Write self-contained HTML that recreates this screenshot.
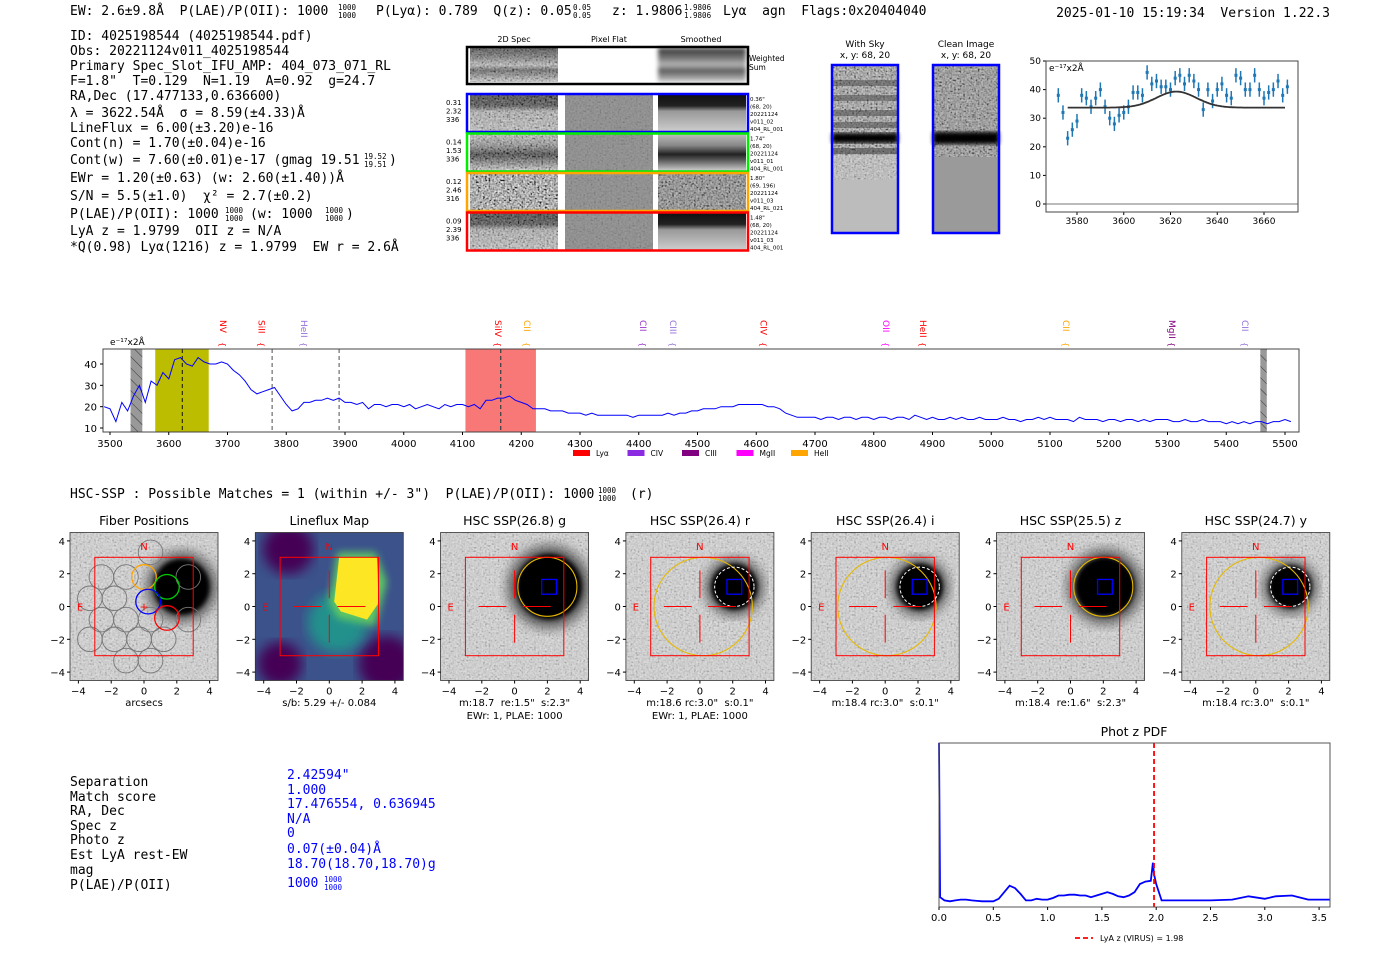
<!DOCTYPE html>
<html><head><meta charset="utf-8"><style>
html,body{margin:0;padding:0;background:#fff;width:1400px;height:953px;overflow:hidden}
svg{display:block}
text{white-space:pre}
.m{font-family:"DejaVu Sans Mono","Liberation Mono",monospace;font-size:13px;fill:#000}
.s{font-family:"DejaVu Sans","Liberation Sans",sans-serif;fill:#000}
.fr{font-family:"DejaVu Sans Mono",monospace;font-size:7.5px}
</style></head><body>
<svg id="root" width="1400" height="953" viewBox="0 0 1400 953" xmlns="http://www.w3.org/2000/svg" xml:space="preserve">
<defs>
<filter id="noise" x="0" y="0" width="100%" height="100%"><feTurbulence type="fractalNoise" baseFrequency="0.55" numOctaves="1" seed="3"/><feColorMatrix type="matrix" values="0.33 0.33 0.33 0 0 0.33 0.33 0.33 0 0 0.33 0.33 0.33 0 0 0 0 0 0 1"/><feComponentTransfer><feFuncR type="linear" slope="3.5" intercept="-1.25"/><feFuncG type="linear" slope="3.5" intercept="-1.25"/><feFuncB type="linear" slope="3.5" intercept="-1.25"/></feComponentTransfer></filter>
<filter id="blur4"><feGaussianBlur stdDeviation="4"/></filter>
<filter id="blur2"><feGaussianBlur stdDeviation="2"/></filter>
<filter id="blur6"><feGaussianBlur stdDeviation="6"/></filter>
<pattern id="hatch" width="8" height="8" patternUnits="userSpaceOnUse" patternTransform="rotate(-45)"><rect width="8" height="8" fill="#999"/><line x1="0" y1="0" x2="0" y2="8" stroke="#333" stroke-width="1"/></pattern>
<linearGradient id="g2d" x1="0" y1="0" x2="0" y2="1"><stop offset="0" stop-color="#222"/><stop offset="0.3" stop-color="#333"/><stop offset="0.45" stop-color="#aaa"/><stop offset="1" stop-color="#bbb"/></linearGradient>
<linearGradient id="gsm" x1="0" y1="0" x2="0" y2="1"><stop offset="0" stop-color="#111"/><stop offset="0.3" stop-color="#222"/><stop offset="0.45" stop-color="#999"/><stop offset="1" stop-color="#ccc"/></linearGradient>
<linearGradient id="ggreen" x1="0" y1="0" x2="0" y2="1"><stop offset="0" stop-color="#bbb"/><stop offset="0.3" stop-color="#888"/><stop offset="0.55" stop-color="#222"/><stop offset="0.7" stop-color="#555"/><stop offset="1" stop-color="#ccc"/></linearGradient>
<linearGradient id="gws" x1="0" y1="0" x2="0" y2="1"><stop offset="0" stop-color="#333"/><stop offset="0.3" stop-color="#777"/><stop offset="0.5" stop-color="#bbb"/><stop offset="0.65" stop-color="#555"/><stop offset="1" stop-color="#ccc"/></linearGradient>
</defs>

<!-- header -->
<g>
<text class="m" x="70" y="15">EW: 2.6±9.8Å  P(LAE)/P(OII): 1000</text>
<text class="fr" x="338" y="10">1000</text><text class="fr" x="338" y="18">1000</text>
<text class="m" x="376" y="15">P(Lyα): 0.789  Q(z): 0.05</text>
<text class="fr" x="573" y="10">0.05</text><text class="fr" x="573" y="18">0.05</text>
<text class="m" x="612" y="15">z: 1.9806</text>
<text class="fr" x="684" y="10">1.9806</text><text class="fr" x="684" y="18">1.9806</text>
<text class="m" x="723" y="15">Lyα  agn  Flags:0x20404040</text>
<text class="m" x="1330" y="17" text-anchor="end">2025-01-10 15:19:34  Version 1.22.3</text>
</g>

<g>
<text class="m" x="70" y="40">ID: 4025198544 (4025198544.pdf)</text>
<text class="m" x="70" y="55">Obs: 20221124v011_4025198544</text>
<text class="m" x="70" y="70">Primary Spec_Slot_IFU_AMP: 404_073_071_RL</text>
<text class="m" x="70" y="85">F=1.8"  T=0.129  N=1.19  A=0.92  g=24.7</text>
<text class="m" x="70" y="100">RA,Dec (17.477133,0.636600)</text>
<text class="m" x="70" y="117">λ = 3622.54Å  σ = 8.59(±4.33)Å</text>
<text class="m" x="70" y="132">LineFlux = 6.00(±3.20)e-16</text>
<text class="m" x="70" y="147">Cont(n) = 1.70(±0.04)e-16</text>
<text class="m" x="70" y="164">Cont(w) = 7.60(±0.01)e-17 (gmag 19.51</text>
<text class="fr" x="364" y="159">19.52</text><text class="fr" x="364" y="167">19.51</text><text class="m" x="389" y="164">)</text>
<text class="m" x="70" y="182">EWr = 1.20(±0.63) (w: 2.60(±1.40))Å</text>
<text class="m" x="70" y="200">S/N = 5.5(±1.0)  χ² = 2.7(±0.2)</text>
<text class="m" x="70" y="218">P(LAE)/P(OII): 1000</text>
<text class="fr" x="225" y="213">1000</text><text class="fr" x="225" y="221">1000</text>
<text class="m" x="250" y="218">(w: 1000</text>
<text class="fr" x="325" y="213">1000</text><text class="fr" x="325" y="221">1000</text><text class="m" x="346" y="218">)</text>
<text class="m" x="70" y="235">LyA z = 1.9799  OII z = N/A</text>
<text class="m" x="70" y="251">*Q(0.98) Lyα(1216) z = 1.9799  EW r = 2.6Å</text>
</g>

<!-- 2D spectra cutouts -->
<g class="s">
<text x="514" y="42" font-size="8" text-anchor="middle">2D Spec</text>
<text x="609" y="42" font-size="8" text-anchor="middle">Pixel Flat</text>
<text x="701" y="42" font-size="8" text-anchor="middle">Smoothed</text>
<g>
<rect x="470" y="48" width="88" height="34" fill="url(#gws)"/><rect x="470" y="48" width="88" height="34" filter="url(#noise)" opacity="0.35"/>
<rect x="658" y="48" width="88" height="34" fill="url(#gws)" filter="url(#blur2)"/>
<rect x="467" y="47" width="281" height="37" fill="none" stroke="#000" stroke-width="2.5"/>
<text x="749" y="61" font-size="7.5">Weighted</text><text x="749" y="70" font-size="7.5">Sum</text>
</g>
</g>
<g id="cutrows"></g>

<!-- sky images -->
<g>
<text class="s" x="865" y="47" font-size="9" text-anchor="middle">With Sky</text>
<text class="s" x="865" y="58" font-size="9" text-anchor="middle">x, y: 68, 20</text>
<rect x="832" y="65" width="66" height="115" fill="#999"/>
<rect x="832" y="65" width="66" height="115" filter="url(#noise)" opacity="0.5"/>
<rect x="832" y="80" width="66" height="6" fill="#444" opacity="0.5"/><rect x="832" y="95" width="66" height="6" fill="#444" opacity="0.5"/><rect x="832" y="110" width="66" height="6" fill="#444" opacity="0.5"/><rect x="832" y="122" width="66" height="6" fill="#444" opacity="0.5"/>
<rect x="832" y="133" width="66" height="10" fill="#000" filter="url(#blur2)"/><rect x="832" y="148" width="66" height="6" fill="#333" opacity="0.5"/>
<rect x="832" y="155" width="66" height="25" fill="#ddd" opacity="0.4"/>
<rect x="832" y="180" width="66" height="53" fill="#bcbcbc"/>
<rect x="832" y="65" width="66" height="168" fill="none" stroke="#00f" stroke-width="2.5"/>
</g>
<g>
<text class="s" x="966" y="47" font-size="9" text-anchor="middle">Clean Image</text>
<text class="s" x="966" y="58" font-size="9" text-anchor="middle">x, y: 68, 20</text>
<rect x="933" y="65" width="66" height="92" fill="#8a8a8a"/>
<rect x="933" y="65" width="66" height="92" filter="url(#noise)" opacity="0.45"/>
<rect x="933" y="132" width="66" height="12" fill="#000" filter="url(#blur2)"/>
<rect x="933" y="157" width="66" height="76" fill="#9a9a9a"/>
<rect x="933" y="65" width="66" height="168" fill="none" stroke="#00f" stroke-width="2.5"/>
</g>

<g id="fitchart"></g>
<g id="specchart"></g>

<text class="m" x="70" y="498">HSC-SSP : Possible Matches = 1 (within +/- 3")  P(LAE)/P(OII): 1000</text>
<text class="fr" x="598" y="493">1000</text><text class="fr" x="598" y="501">1000</text>
<text class="m" x="630" y="498">(r)</text>

<g id="panels"></g>

<g>
<g class="m">
<text x="70" y="786">Separation</text><text x="70" y="801">Match score</text><text x="70" y="815">RA, Dec</text><text x="70" y="830">Spec z</text><text x="70" y="844">Photo z</text><text x="70" y="859">Est LyA rest-EW</text><text x="70" y="874">mag</text><text x="70" y="889">P(LAE)/P(OII)</text>
</g>
<g class="m" style="fill:#00f">
<text x="287" y="779" style="fill:#00f">2.42594"</text><text x="287" y="794" style="fill:#00f">1.000</text><text x="287" y="808" style="fill:#00f">17.476554, 0.636945</text><text x="287" y="823" style="fill:#00f">N/A</text><text x="287" y="837" style="fill:#00f">0</text><text x="287" y="853" style="fill:#00f">0.07(±0.04)Å</text><text x="287" y="868" style="fill:#00f">18.70(18.70,18.70)g</text><text x="287" y="887" style="fill:#00f">1000</text>
<text class="fr" x="324" y="882" style="fill:#00f">1000</text><text class="fr" x="324" y="890" style="fill:#00f">1000</text>
</g>
</g>

<g id="pdfchart"></g>
</svg>

<script>
// ===== data: line fit =====
const fitWave = [3572,3574,3576,3578,3580,3582,3584,3586,3588,3590,3592,3594,3596,3598,3600,3602,3604,3606,3608,3610,3612,3614,3616,3618,3620,3622,3624,3626,3628,3630,3632,3634,3636,3638,3640,3642,3644,3646,3648,3650,3652,3654,3656,3658,3660,3662,3664,3666,3668,3670];
const fitFlux = [38,32,23,26,29,38,37,34,37,40,34,30,28,31,32,34,39,39,38,46,42,43,41,41,40,44,45,42,45,43,40,33,40,36,40,42,38,37,45,44,40,40,45,40,37,39,40,43,38,41];
const fitErr = 2.5;
const fitModel = [33.7, 5.6, 3622.5, 8.6]; // baseline, amplitude, center, sigma
const fitXTicks = [3580,3600,3620,3640,3660];
const fitYTicks = [0,10,20,30,40,50];

// ===== data: full spectrum =====
const specStart = 3490, specStep = 10;
const specFlux = [20,19,13,22,18,25,30,22,32,30,36,
33,42,43,40,39,43,41,40,40,41,
40,37,35,32,28,26,27,28,29,25,
21,18,19,22,22,23,23,24,23,24,
22,22,21,22,19,21,21,20,21,21,
20,21,19,20,21,20,19,21,20,21,
21,20,21,19,23,23,24,24,25,23,
22,21,19,19,19,18,18,18,17,17,
17,16,17,16,16,16,16,16,16,15,
16,16,16,16,16,17,16,17,17,18,
18,19,19,19,20,20,20,21,21,21,
21,21,20,20,19,17,16,15,15,15,
15,14,15,15,14,15,15,14,15,15,
14,15,15,14,15,15,14,16,15,14,
15,14,14,15,14,15,14,14,15,14,
14,14,15,14,14,13,14,14,15,14,
15,14,14,14,13,15,14,14,14,13,
14,14,13,14,14,13,14,13,14,14,
14,13,13,14,13,13,14,13,13,13,
12,13,12,13,12,13,13,12,13,13,
14,13];
const specXTicks = [3500,3600,3700,3800,3900,4000,4100,4200,4300,4400,4500,4600,4700,4800,4900,5000,5100,5200,5300,5400,5500];
const specYTicks = [10,20,30,40];
const lineNames = ["NV","SiII","HeII","SiIV","CII","CII","CIII","CIV","OII","HeII","CII","MgII","CII"];
const lineWaves = [3692,3758,3830,4160,4210,4407,4458,4612,4821,4884,5127,5308,5432];
const lineColors = ["#f00","#f00","#9370db","#f00","#ffa500","#9932cc","#9370db","#f00","#f0f","#f00","#ffa500","#800080","#9370db"];
const legendNames = ["Lyα","CIV","CIII","MgII","HeII"];
const legendColors = ["#f00","#8a2be2","#800080","#f0f","#ffa500"];

// ===== data: photo-z PDF =====
const pdfZ = [0,0.01,0.05,0.1,0.15,0.2,0.25,0.3,0.35,0.4,0.45,0.5,0.55,0.6,0.65,0.7,0.75,0.8,0.85,0.9,0.95,1.0,1.05,1.1,1.15,1.2,1.25,1.3,1.35,1.4,1.45,1.5,1.55,1.6,1.65,1.7,1.75,1.8,1.85,1.9,1.95,1.97,1.98,2.0,2.05,2.1,2.3,2.5,2.7,2.85,3.0,3.1,3.25,3.4,3.6];
const pdfP = [1.0,0.06,0.04,0.035,0.04,0.045,0.045,0.04,0.037,0.035,0.035,0.035,0.05,0.09,0.13,0.115,0.08,0.04,0.04,0.05,0.045,0.045,0.055,0.07,0.07,0.075,0.075,0.07,0.07,0.06,0.07,0.08,0.09,0.08,0.065,0.06,0.07,0.09,0.14,0.155,0.16,0.27,0.2,0.14,0.04,0.04,0.04,0.04,0.045,0.065,0.05,0.065,0.07,0.045,0.045];
const pdfXTicks = [0.0,0.5,1.0,1.5,2.0,2.5,3.0,3.5];
const pdfLyaZ = 1.98;

// ===== data: cutout rows =====
const rowStats = [["0.31","2.32","336"],["0.14","1.53","336"],["0.12","2.46","316"],["0.09","2.39","336"]];
const rowInfo = [["0.36\"","(68, 20)","20221124","v011_02","404_RL_001"],["1.74\"","(68, 20)","20221124","v011_01","404_RL_001"],["1.80\"","(69, 196)","20221124","v011_03","404_RL_021"],["1.48\"","(68, 20)","20221124","v011_03","404_RL_001"]];
const rowColors = ["#00f","#0e0","#ffa500","#f00"];

const NS = "http://www.w3.org/2000/svg";
function mk(tag, attrs, parent){const e=document.createElementNS(NS,tag);for(const k in attrs)e.setAttribute(k,attrs[k]);parent.appendChild(e);return e;}
function tx(s, attrs, parent){const e=mk('text',attrs,parent);e.textContent=s;return e;}

// ---------- cutout rows ----------
(function(){
  const g=document.getElementById('cutrows');
  for(let i=0;i<4;i++){
    const y=95+i*39.5;
    const r=mk('g',{},g);
    
    
    const grad = i===1?'url(#ggreen)':'url(#g2d)';
    mk('rect',{x:470,y:y,width:88,height:36,fill:i===2?'#888':grad},r);
    mk('rect',{x:470,y:y,width:88,height:36,filter:'url(#noise)',opacity:i===2?0.8:0.4},r);
    mk('rect',{x:565,y:y,width:88,height:36,fill:'#8c8c8c'},r);
    mk('rect',{x:565,y:y,width:88,height:36,filter:'url(#noise)',opacity:0.12},r);
    mk('rect',{x:658,y:y,width:88,height:36,fill:i===2?'#777':(i===1?'url(#ggreen)':'url(#gsm)')},r);
    if(i===2) mk('rect',{x:658,y:y,width:88,height:36,filter:'url(#noise)',opacity:0.5},r);
    const b=mk('rect',{x:467,y:y-1,width:281,height:38,fill:'none',stroke:rowColors[i],'stroke-width':2.5},r);
    
    
    rowStats[i].forEach((s,j)=>tx(s,{x:446,y:y+10+j*8.5,'font-size':7,class:'s'},r));
    rowInfo[i].forEach((s,j)=>tx(s,{x:750,y:y+6+j*7.5,'font-size':5.5,class:'s'},r));
  }
})();

// ---------- line fit chart ----------
(function(){
  const g=document.getElementById('fitchart');
  const X0=1046,X1=1298,Y0=61,Y1=212;
  const sx=w=>1077+(w-3580)*2.3375, sy=v=>204-v*2.86;
  mk('line',{x1:X0,x2:X1,y1:sy(0),y2:sy(0),stroke:'#777','stroke-width':1},g);
  fitYTicks.forEach(t=>{mk('line',{x1:X0-3,x2:X0,y1:sy(t),y2:sy(t),stroke:'#000'},g);const l=tx(String(t),{x:X0-5,y:sy(t)+3,'text-anchor':'end','font-size':9,class:'s'},g);});
  fitXTicks.forEach(t=>{mk('line',{x1:sx(t),x2:sx(t),y1:Y1,y2:Y1+3,stroke:'#000'},g);const l=tx(String(t),{x:sx(t),y:Y1+12,'text-anchor':'middle','font-size':9,class:'s'},g);});
  fitWave.forEach((w,i)=>{
    const p=mk('g',{},g);
    
    
    mk('line',{x1:sx(w),x2:sx(w),y1:sy(fitFlux[i]-fitErr),y2:sy(fitFlux[i]+fitErr),stroke:'#1f77b4','stroke-width':1.5},p);
    mk('rect',{x:sx(w)-1.5,y:sy(fitFlux[i])-1.5,width:3,height:3,fill:'#1f77b4'},p);
  });
  let d='';
  for(let w=3576;w<=3669;w+=0.5){const v=fitModel[0]+fitModel[1]*Math.exp(-0.5*Math.pow((w-fitModel[2])/fitModel[3],2));d+=(d?'L':'M')+sx(w).toFixed(1)+','+sy(v).toFixed(1);}
  const m=mk('path',{d:d,fill:'none',stroke:'#333','stroke-width':1.8},g);
  
  
  mk('rect',{x:X0,y:Y0,width:X1-X0,height:Y1-Y0,fill:'none',stroke:'#444'},g);
  tx('e⁻¹⁷x2Å',{x:X0+3,y:Y0+10,'font-size':9,class:'s'},g);
})();

// ---------- full spectrum ----------
(function(){
  const g=document.getElementById('specchart');
  const X0=103,X1=1299,Y0=349,Y1=432;
  const sx=w=>110+(w-3500)*0.5875, sy=v=>364+(40-v)*2.1333;
  const band=(a,b,fill,name)=>{const r=mk('rect',{x:sx(a),y:Y0,width:sx(b)-sx(a),height:Y1-Y0,fill:fill},g);};
  band(3535,3555,'url(#hatch)','masked-region-left');
  band(3577,3668,'#bcbc00','fit-window');
  band(4105,4225,'#f87878','line-window');
  band(5458,5469,'url(#hatch)','masked-region-right');
  [[3623,'#000',0.9],[3776,'#777',1.3],[3890,'#777',1.3],[4165,'#444',1.3]].forEach(a=>{const l=mk('line',{x1:sx(a[0]),x2:sx(a[0]),y1:Y0,y2:Y1,stroke:a[1],'stroke-width':a[2],'stroke-dasharray':'4,3'},g);});
  let d='';
  specFlux.forEach((v,i)=>{const w=specStart+i*specStep;d+=(i?'L':'M')+sx(w).toFixed(1)+','+sy(v).toFixed(1);});
  const p=mk('path',{d:d,fill:'none',stroke:'#00f','stroke-width':1},g);
  
  
  mk('rect',{x:X0,y:Y0,width:X1-X0,height:Y1-Y0,fill:'none',stroke:'#444'},g);
  specYTicks.forEach(t=>{mk('line',{x1:X0-3,x2:X0,y1:sy(t),y2:sy(t),stroke:'#000'},g);const l=tx(String(t),{x:X0-6,y:sy(t)+4,'text-anchor':'end','font-size':10,class:'s'},g);});
  specXTicks.forEach(t=>{mk('line',{x1:sx(t),x2:sx(t),y1:Y1,y2:Y1+3,stroke:'#000'},g);const l=tx(String(t),{x:sx(t),y:Y1+15,'text-anchor':'middle','font-size':10,class:'s'},g);});
  tx('e⁻¹⁷x2Å',{x:110,y:345,'font-size':9,class:'s'},g);
  lineNames.forEach((n,i)=>{
    const x=sx(lineWaves[i]);
    const t=tx(n,{x:x-3,y:320,'font-size':9,fill:lineColors[i],class:'s',transform:'rotate(90 '+(x-3)+' 320)'},g);
    t.style.fill=lineColors[i];
    
    
    const b=tx('{',{x:x-3,y:342,'font-size':8,class:'s',transform:'rotate(90 '+(x-3)+' 342)'},g);
    b.style.fill=lineColors[i];
  });
  legendNames.forEach((n,i)=>{
    const x=573+i*54.5;
    const e=mk('g',{},g);
    
    
    mk('rect',{x:x,y:450,width:17,height:6,fill:legendColors[i]},e);
    tx(n,{x:x+23,y:456,'font-size':7.5,class:'s'},e);
  });
})();

// ---------- imaging panels ----------
(function(){
  const g=document.getElementById('panels');
  const titles=["Fiber Positions","Lineflux Map","HSC SSP(26.8) g","HSC SSP(26.4) r","HSC SSP(26.4) i","HSC SSP(25.5) z","HSC SSP(24.7) y"];
  const cap1=["arcsecs","s/b: 5.29 +/- 0.084","m:18.7  re:1.5\"  s:2.3\"","m:18.6 rc:3.0\"  s:0.1\"","m:18.4 rc:3.0\"  s:0.1\"","m:18.4  re:1.6\"  s:2.3\"","m:18.4 rc:3.0\"  s:0.1\""];
  const cap2=["","","EWr: 1, PLAE: 1000","EWr: 1, PLAE: 1000","","",""];
  const apert=[[2,1.2,1.8],[0.2,0,3],[0.1,0,3],[2,1.2,1.8],[0.2,0,3]];
  const blobR=[2.0,1.4,1.4,1.8,1.3];
  const S=16.4;
  for(let i=0;i<7;i++){
    const L=70+185.3*i, T=532.5, W=148, cx=L+74, cy=606.5;
    const px=x=>cx+x*S, py=y=>cy-y*S;
    const p=mk('g',{},g);
    
    
    const clipId='clip'+i;
    const cp=mk('clipPath',{id:clipId},p);mk('rect',{x:L,y:T,width:W,height:W},cp);
    const img=mk('g',{'clip-path':'url(#'+clipId+')'},p);
    if(i===1){
      mk('rect',{x:L,y:T,width:W,height:W,fill:'#3b528b'},img);
      mk('circle',{cx:px(-2.5),cy:py(3.5),r:25,fill:'#440154',filter:'url(#blur6)'},img);
      mk('circle',{cx:px(-3),cy:py(-3.5),r:22,fill:'#440154',filter:'url(#blur6)'},img);
      mk('circle',{cx:px(3.5),cy:py(-3.5),r:28,fill:'#440154',filter:'url(#blur6)'},img);
      mk('circle',{cx:px(0.5),cy:py(-1),r:30,fill:'#21918c',filter:'url(#blur6)'},img);
      mk('polygon',{points:[[px(0),py(0.3)],[px(0.5),py(3.3)],[px(2.8),py(3.3)],[px(3.5),py(1.5)],[px(2.8),py(-1.2)],[px(0.5),py(-0.7)]].map(a=>a.join(',')).join(' '),fill:'#5ec962',filter:'url(#blur4)'},img);
      mk('polygon',{points:[[px(0.3),py(0.3)],[px(0.6),py(3)],[px(2.9),py(3)],[px(3),py(0.2)],[px(2.3),py(-0.8)],[px(0.7),py(-0.3)]].map(a=>a.join(',')).join(' '),fill:'#fde725'},img);
    } else {
      mk('rect',{x:L,y:T,width:W,height:W,fill:'#d4d4d4'},img);
      mk('rect',{x:L,y:T,width:W,height:W,filter:'url(#noise)',opacity:0.22},img);
      const br = i===0?1.7:blobR[i-2];
      mk('circle',{cx:px(i===0?2.3:2.1),cy:py(1.2),r:br*S*1.25,fill:'#555',filter:'url(#blur6)'},img);
      mk('circle',{cx:px(i===0?2.3:2.1),cy:py(1.2),r:br*S,fill:'#000',filter:'url(#blur2)'},img);
    }
    if(i===0){
      const fib=[[-2.6,1.8],[-1.1,1.8],[0.4,3.3],[-1.8,0.5],[-3.3,0.5],[-2.6,-0.8],[-1.1,-0.8],[0.4,-0.8],[-3.3,-2],[-1.8,-2],[-0.3,-2],[1.2,-2],[2.7,-0.8],[0.4,-3.3],[-1.1,-3.3],[2.7,1.8]];
      fib.forEach(f=>{const c=mk('circle',{cx:px(f[0]),cy:py(f[1]),r:12.3,fill:'none',stroke:'#777','stroke-width':0.9},img);});
      [[0,1.8,'#ffa500'],[1.4,1.2,'#0c0'],[0.25,0.3,'#00f'],[1.4,-0.7,'#f00']].forEach(f=>{const c=mk('circle',{cx:px(f[0]),cy:py(f[1]),r:12.3,fill:'none',stroke:f[2],'stroke-width':1.3},img);});
      tx('+',{x:px(0),y:py(0)+4,'text-anchor':'middle','font-size':11,class:'s',fill:'#f00'},img).style.fill='#f00';
    }
    if(i>=2){
      const a=apert[i-2];
      mk('circle',{cx:px(a[0]),cy:py(a[1]),r:a[2]*S,fill:'none',stroke:'#e6b800','stroke-width':1.1},img);
      if(i===3||i===4||i===6) mk('circle',{cx:px(2.1),cy:py(1.2),r:1.2*S,fill:'none',stroke:'#fff','stroke-width':1,'stroke-dasharray':'3,2'},img);
      const sq=mk('rect',{x:px(1.65),y:py(1.65),width:0.9*S,height:0.9*S,fill:'none',stroke:'#00f','stroke-width':1.3},img);
      
      
    }
    if(i>=1){
      [[-2.2,0,-0.5,0],[0.5,0,2.2,0],[0,0.5,0,2.2],[0,-0.5,0,-2.2]].forEach(s=>mk('line',{x1:px(s[0]),y1:py(s[1]),x2:px(s[2]),y2:py(s[3]),stroke:'#f00','stroke-width':1},img));
    }
    mk('rect',{x:px(-3),y:py(3),width:6*S,height:6*S,fill:'none',stroke:'#f00','stroke-width':1},img);
    tx('N',{x:px(0),y:py(3.7)+4,'text-anchor':'middle','font-size':10,class:'s'},img).style.fill='#f00';
    tx('E',{x:px(-3.9),y:py(0)+4,'text-anchor':'middle','font-size':10,class:'s'},img).style.fill='#f00';
    mk('rect',{x:L,y:T,width:W,height:W,fill:'none',stroke:'#333','stroke-width':0.8},p);
    [-4,-2,0,2,4].forEach(t=>{
      mk('line',{x1:px(t),x2:px(t),y1:T+W,y2:T+W+3,stroke:'#000'},p);
      tx(t<0?'−'+(-t):String(t),{x:px(t),y:T+W+14,'text-anchor':'middle','font-size':10,class:'s'},p);
      mk('line',{x1:L-3,x2:L,y1:py(t),y2:py(t),stroke:'#000'},p);
      tx(t<0?'−'+(-t):String(t),{x:L-5,y:py(t)+4,'text-anchor':'end','font-size':10,class:'s'},p);
    });
    const tt=tx(titles[i],{x:cx,y:525,'text-anchor':'middle','font-size':12.5,class:'s'},p);
    
    
    tx(cap1[i],{x:cx,y:706,'text-anchor':'middle','font-size':10,class:'s'},p);
    if(cap2[i]) tx(cap2[i],{x:cx,y:719,'text-anchor':'middle','font-size':10,class:'s'},p);
  }
})();

// ---------- photo-z PDF ----------
(function(){
  const g=document.getElementById('pdfchart');
  const X0=939,X1=1330,Y0=743,Y1=907;
  const sx=z=>X0+z*108.6, sy=p=>Y1-p*(Y1-Y0);
  let d='';
  pdfZ.forEach((z,i)=>{d+=(i?'L':'M')+sx(z).toFixed(1)+','+sy(pdfP[i]).toFixed(1);});
  const c=mk('path',{d:d,fill:'none',stroke:'#00f','stroke-width':1.8},g);
  
  
  const r=mk('line',{x1:sx(pdfLyaZ),x2:sx(pdfLyaZ),y1:Y0,y2:Y1,stroke:'#f00','stroke-width':1.8,'stroke-dasharray':'5,3'},g);
  
  
  mk('rect',{x:X0,y:Y0,width:X1-X0,height:Y1-Y0,fill:'none',stroke:'#555'},g);
  pdfXTicks.forEach(t=>{mk('line',{x1:sx(t),x2:sx(t),y1:Y1,y2:Y1+3,stroke:'#000'},g);const l=tx(t.toFixed(1),{x:sx(t),y:Y1+14,'text-anchor':'middle','font-size':10,class:'s'},g);});
  tx('Phot z PDF',{x:1134,y:736,'text-anchor':'middle','font-size':12.5,class:'s'},g);
  const lg=mk('g',{},g);
  
  
  mk('line',{x1:1075,x2:1093,y1:938,y2:938,stroke:'#f00','stroke-width':1.8,'stroke-dasharray':'5,3'},lg);
  tx('LyA z (VIRUS) = 1.98',{x:1100,y:941,'font-size':8,class:'s'},lg);
})();
</script>
</body></html>
